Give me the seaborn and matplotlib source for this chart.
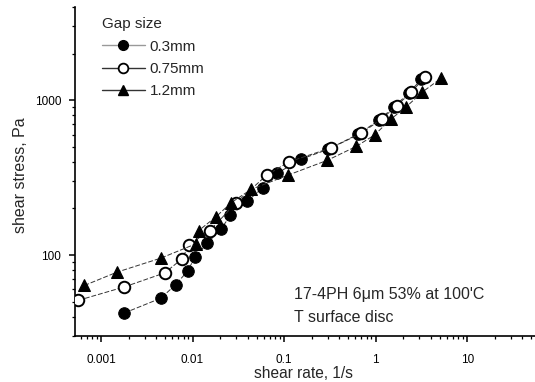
import matplotlib
matplotlib.use("Agg")
import matplotlib.pyplot as plt
from matplotlib.lines import Line2D
from matplotlib.ticker import LogLocator, NullFormatter, FixedLocator, FixedFormatter
import seaborn as sns
import pandas as pd

# ---- data ----
rate_03 = [0.00179, 0.00449, 0.00653, 0.00883, 0.01064, 0.01455, 0.0204, 0.0259,
           0.0396, 0.0583, 0.0845, 0.153, 0.30, 0.637, 1.08, 1.57, 2.29, 3.16]
stress_03 = [42.2, 52.6, 64.3, 78.8, 97, 119.7, 146.8, 180.3,
             222.3, 272, 338, 416, 481, 601, 741, 901, 1110, 1368]

rate_075 = [0.000566, 0.00179, 0.00497, 0.00773, 0.00906, 0.0155, 0.0299, 0.0646,
            0.113, 0.328, 0.695, 1.17, 1.71, 2.46, 3.45]
stress_075 = [51, 62.2, 76.7, 94.9, 116, 144, 218, 328,
              400, 493, 611, 759, 924, 1135, 1403]

rate_12 = [0.000658, 0.00150, 0.00452, 0.0108, 0.0117, 0.0181, 0.0265, 0.0438,
           0.110, 0.296, 0.614, 0.975, 1.46, 2.17, 3.19, 5.21]
stress_12 = [63.6, 77.6, 95.6, 118, 144, 177, 218, 266,
             328, 409, 503, 597, 753, 908, 1122, 1390]

series_labels = ["0.3mm", "0.75mm", "1.2mm"]
x_ticks = [0.001, 0.01, 0.1, 1, 10]
x_tick_labels = ["0.001", "0.01", "0.1", "1", "10"]
y_ticks = [100, 1000]
y_tick_labels = ["100", "1000"]

sns.set_theme(style="ticks")
plt.rcParams["font.family"] = ["Liberation Sans", "DejaVu Sans"]

W, H = 535, 382
fig = plt.figure(figsize=(W / 100, H / 100), dpi=100)
ax = fig.add_axes([75 / W, 46 / H, 460 / W, 329 / H])

frames = [
    pd.DataFrame({"rate": rate_03, "stress": stress_03}),
    pd.DataFrame({"rate": rate_075, "stress": stress_075}),
    pd.DataFrame({"rate": rate_12, "stress": stress_12}),
]
styles = [
    dict(marker="o", markersize=8.3, markerfacecolor="black", markeredgecolor="black"),
    dict(marker="o", markersize=8.3, markerfacecolor="white", markeredgecolor="black",
         markeredgewidth=1.4),
    dict(marker="^", markersize=8.8, markerfacecolor="black", markeredgecolor="black"),
]
order = [0, 2, 1]
for i in order:
    sns.lineplot(data=frames[i], x="rate", y="stress", ax=ax, sort=False,
                 estimator=None, color="#333333", linewidth=0.7,
                 linestyle=(0, (5, 2)), legend=False, zorder=3 + i, **styles[i])

ax.set_xscale("log")
ax.set_yscale("log")
ax.set_xlim(0.00052, 55)
ax.set_ylim(30, 4000)

ax.xaxis.set_major_locator(FixedLocator(x_ticks))
ax.xaxis.set_major_formatter(FixedFormatter(x_tick_labels))
ax.xaxis.set_minor_locator(LogLocator(base=10, subs=range(2, 10), numticks=20))
ax.xaxis.set_minor_formatter(NullFormatter())
ax.yaxis.set_major_locator(FixedLocator(y_ticks))
ax.yaxis.set_major_formatter(FixedFormatter(y_tick_labels))
ax.yaxis.set_minor_locator(LogLocator(base=10, subs=range(2, 10), numticks=20))
ax.yaxis.set_minor_formatter(NullFormatter())

for s in ["top", "right"]:
    ax.spines[s].set_visible(False)
for s in ["left", "bottom"]:
    ax.spines[s].set_linewidth(1.2)
    ax.spines[s].set_color("black")
ax.tick_params(which="major", direction="out", length=4, width=1.1, labelsize=8.5,
               colors="black")
ax.tick_params(axis="x", which="major", pad=9)
ax.tick_params(axis="y", which="major", pad=6)
ax.tick_params(which="minor", direction="out", length=2.5, width=0.9, colors="black")

ax.set_xlabel("")
ax.set_ylabel("")
fig.text(303 / W, 1.5 / H, "shear rate, 1/s", ha="center", va="bottom", fontsize=11.2)
fig.text(21 / W, 1 - 175 / H, "shear stress, Pa", ha="center", va="center",
         rotation=90, fontsize=11.5)

fig.text(294 / W, 1 - 294 / H, "17-4PH 6\u03bcm 53% at 100'C", ha="left", va="center",
         fontsize=11.5)
fig.text(294 / W, 1 - 318 / H, "T surface disc", ha="left", va="center", fontsize=11.5)

handles = [
    Line2D([], [], color="#999999", lw=1.0, marker="o", markersize=7,
           markerfacecolor="black", markeredgecolor="black"),
    Line2D([], [], color="#333333", lw=1.0, marker="o", markersize=7,
           markerfacecolor="white", markeredgecolor="black", markeredgewidth=1.3),
    Line2D([], [], color="#333333", lw=1.0, marker="^", markersize=7.5,
           markerfacecolor="black", markeredgecolor="black"),
]
leg = ax.legend(handles, series_labels, title="Gap size", loc="upper left",
                bbox_to_anchor=(96 / W, 1 - 11 / H), bbox_transform=fig.transFigure,
                frameon=False, fontsize=11, title_fontsize=11, handlelength=2.8,
                handletextpad=0.3, labelspacing=0.55, borderaxespad=0)
leg._legend_box.align = "left"

fig.savefig("out.png", dpi=100)
